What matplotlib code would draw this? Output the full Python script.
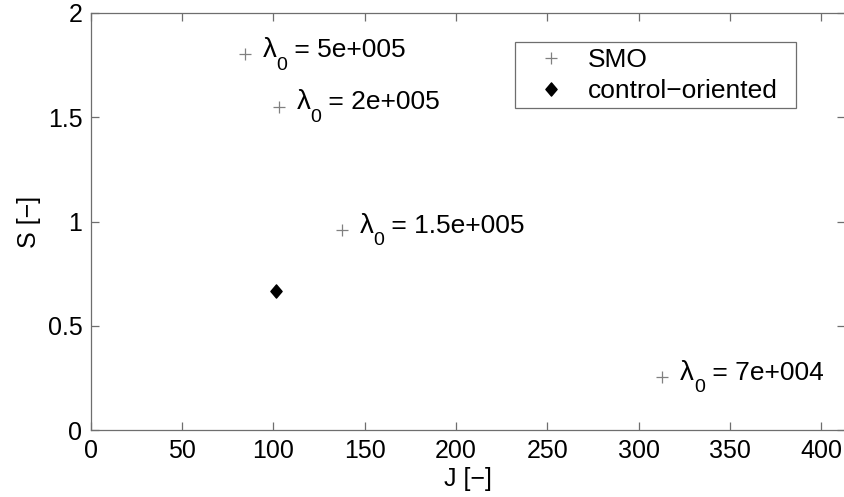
"""
SMO vs control-oriented: S over J
"""

import matplotlib
matplotlib.use("Agg")
import matplotlib.pyplot as plt
from matplotlib.patches import Rectangle
from matplotlib.path import Path
from matplotlib.ticker import FuncFormatter

# data
smo_J = [84.5, 103, 137.5, 313]
smo_S = [1.80, 1.55, 0.96, 0.255]
smo_lambda = ["5e+005", "2e+005", "1.5e+005", "7e+004"]

co_J = [101.5]
co_S = [0.665]

x_ticks = [0, 50, 100, 150, 200, 250, 300, 350, 400]
y_ticks = [0, 0.5, 1, 1.5, 2]

plt.rcParams["font.family"] = ["Liberation Sans", "DejaVu Sans"]

FS = 18       # ticks, axis labels
FS_TXT = 19   # annotations, legend
AX_GREY = "#6e6e6e"

# MATLAB-like diamond (a bit narrower than tall)
diamond = Path([(0, 1), (0.85, 0), (0, -1), (-0.85, 0), (0, 1)],
               [Path.MOVETO, Path.LINETO, Path.LINETO, Path.LINETO, Path.CLOSEPOLY])

fig = plt.figure(figsize=(8.45, 4.97), dpi=100)
ax = fig.add_axes([0.1073, 0.1342, 0.8927, 0.8402])

ax.plot(smo_J, smo_S, linestyle="none", marker="+", markersize=8,
        markeredgewidth=0.9, color="#808080", label="SMO")
ax.plot(co_J, co_S, linestyle="none", marker=diamond, markersize=9.5,
        color="black", label="control\u2212oriented")

ax.set_xlim(0, 413)
ax.set_ylim(0, 2)
ax.set_xticks(x_ticks)
ax.set_yticks(y_ticks)
ax.yaxis.set_major_formatter(FuncFormatter(lambda v, p: f"{v:g}"))

ax.set_xlabel("J [\u2212]", fontsize=FS, labelpad=3)
ax.set_ylabel("S [\u2212]", fontsize=FS, labelpad=5)

ax.tick_params(direction="in", length=5.5, width=0.9, color=AX_GREY,
               labelsize=FS, top=True, right=True, pad=6)
for sp in ax.spines.values():
    sp.set_color(AX_GREY)
    sp.set_linewidth(0.9)

# подписи точек: lambda, индекс 0, остальное — по кусочкам
renderer = fig.canvas.get_renderer()
px2pt = 72.0 / fig.dpi
for j, s, lam in zip(smo_J, smo_S, smo_lambda):
    x0 = 12.7
    t1 = ax.annotate("\u03bb", xy=(j, s), xytext=(x0, -2.0),
                     textcoords="offset points", ha="left", va="baseline",
                     fontsize=20)
    w1 = t1.get_window_extent(renderer).width * px2pt
    t2 = ax.annotate("0", xy=(j, s), xytext=(x0 + w1, -11.0),
                     textcoords="offset points", ha="left", va="baseline",
                     fontsize=14)
    w2 = t2.get_window_extent(renderer).width * px2pt
    ax.annotate(" = " + lam, xy=(j, s), xytext=(x0 + w1 + w2, -2.0),
                textcoords="offset points", ha="left", va="baseline",
                fontsize=FS_TXT)

# легенда без рамки + рамка отдельно (как в MATLAB, с запасом справа)
box_x0, box_x1 = 0.5625, 0.935
box_y0, box_y1 = 0.7718, 0.9306
ax.add_patch(Rectangle((box_x0, box_y0), box_x1 - box_x0, box_y1 - box_y0,
                       transform=ax.transAxes, facecolor="white",
                       edgecolor=AX_GREY, linewidth=0.9, zorder=4))
leg = ax.legend(loc="upper left", bbox_to_anchor=(box_x0, box_y1),
                borderaxespad=0, fontsize=FS_TXT, frameon=False,
                handlelength=2.2, handletextpad=0.3, labelspacing=0.25,
                borderpad=0.25)
leg.set_zorder(5)

plt.savefig("out.png", dpi=100)
plt.close()
